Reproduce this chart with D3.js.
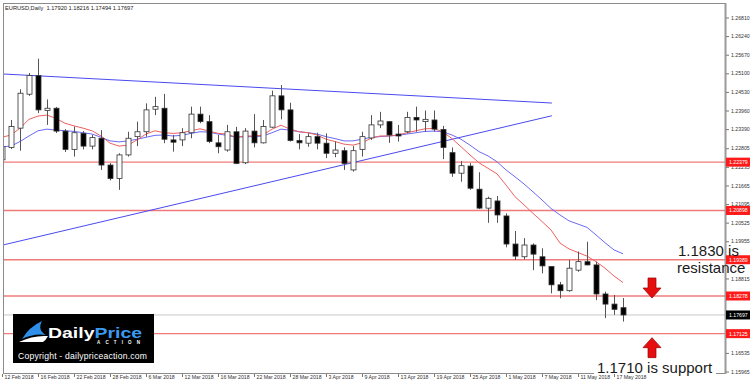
<!DOCTYPE html>
<html>
<head>
<meta charset="utf-8">
<script src="https://cdn.jsdelivr.net/npm/d3@7"></script>
<style>
  body { margin: 0; background: #fff; }
  svg { display: block; }
  text { font-family: "Liberation Sans", Arial, sans-serif; }
</style>
</head>
<body>
<div id="chart"></div>
<script>
// trading days shown on the chart
const dates = [
  "2018-02-12","2018-02-13","2018-02-14","2018-02-15","2018-02-16","2018-02-19","2018-02-20","2018-02-21","2018-02-22","2018-02-23",
  "2018-02-26","2018-02-27","2018-02-28","2018-03-01","2018-03-02","2018-03-05","2018-03-06","2018-03-07","2018-03-08","2018-03-09",
  "2018-03-12","2018-03-13","2018-03-14","2018-03-15","2018-03-16","2018-03-19","2018-03-20","2018-03-21","2018-03-22","2018-03-23",
  "2018-03-26","2018-03-27","2018-03-28","2018-03-29","2018-03-30","2018-04-02","2018-04-03","2018-04-04","2018-04-05","2018-04-06",
  "2018-04-09","2018-04-10","2018-04-11","2018-04-12","2018-04-13","2018-04-16","2018-04-17","2018-04-18","2018-04-19","2018-04-20",
  "2018-04-23","2018-04-24","2018-04-25","2018-04-26","2018-04-27","2018-04-30","2018-05-01","2018-05-02","2018-05-03","2018-05-04",
  "2018-05-07","2018-05-08","2018-05-09","2018-05-10","2018-05-11","2018-05-14","2018-05-15","2018-05-16","2018-05-17","2018-05-18"
];

const open = [
  1.2245,1.2283,1.2342,1.2446,1.2503,1.2396,1.2403,1.2333,1.2277,1.2326,
  1.2287,1.2311,1.2229,1.2188,1.2260,1.2316,1.2331,1.2400,1.2403,1.2306,
  1.2306,1.2328,1.2385,1.2362,1.2297,1.2275,1.2331,1.2236,1.2333,1.2297,
  1.2345,1.2441,1.2398,1.2304,1.2296,1.2316,1.2296,1.2265,1.2273,1.2214,
  1.2277,1.2312,1.2352,1.2362,1.2324,1.2331,1.2375,1.2362,1.2367,1.2338,
  1.2267,1.2204,1.2226,1.2155,1.2097,1.2119,1.2073,1.1987,1.1948,1.1984,
  1.1948,1.1918,1.1862,1.1844,1.1907,1.1933,1.1923,1.1834,1.1803,1.1792
];
const high = [
  1.2294,1.2367,1.2461,1.2511,1.2555,1.2430,1.2407,1.2339,1.2347,1.2333,
  1.2321,1.2336,1.2235,1.2265,1.2331,1.2362,1.2418,1.2438,1.2447,1.2321,
  1.2342,1.2408,1.2408,1.2382,1.2321,1.2352,1.2346,1.2342,1.2385,1.2367,
  1.2457,1.2474,1.2420,1.2324,1.2326,1.2328,1.2326,1.2301,1.2283,1.2287,
  1.2331,1.2382,1.2392,1.2364,1.2352,1.2392,1.2408,1.2396,1.2396,1.2349,
  1.2283,1.2241,1.2235,1.2207,1.2132,1.2134,1.2081,1.2027,1.2005,1.1989,
  1.1974,1.1918,1.1871,1.1938,1.1964,1.1994,1.1933,1.1841,1.1831,1.18216
];
const low = [
  1.2238,1.2278,1.2273,1.2441,1.2388,1.2352,1.2327,1.2269,1.2255,1.2277,
  1.2277,1.2214,1.2182,1.2153,1.2255,1.2287,1.2316,1.2382,1.2296,1.2270,
  1.2287,1.2311,1.2357,1.2296,1.2265,1.2270,1.2232,1.2232,1.2283,1.2295,
  1.2343,1.2369,1.2301,1.2277,1.2285,1.2277,1.2250,1.2253,1.2214,1.2209,
  1.2255,1.2306,1.2342,1.2297,1.2301,1.2326,1.2331,1.2331,1.2331,1.2247,
  1.2193,1.2178,1.2153,1.2094,1.2052,1.2052,1.1977,1.1938,1.1940,1.1907,
  1.1897,1.1836,1.1821,1.1841,1.1902,1.1922,1.1815,1.1760,1.1770,1.17494
];
const close = [
  1.2285,1.2347,1.2449,1.2503,1.2398,1.2403,1.2333,1.2277,1.2328,1.2287,
  1.2313,1.2229,1.2188,1.2260,1.2311,1.2331,1.2398,1.2408,1.2308,1.2299,
  1.2328,1.2385,1.2362,1.2301,1.2285,1.2331,1.2234,1.2333,1.2297,1.2347,
  1.2441,1.2398,1.2304,1.2297,1.2316,1.2296,1.2265,1.2275,1.2234,1.2273,
  1.2316,1.2352,1.2364,1.2321,1.2318,1.2375,1.2367,1.2369,1.2339,1.2283,
  1.2204,1.2227,1.2158,1.2097,1.2127,1.2076,1.1987,1.1950,1.1984,1.1956,
  1.1920,1.1862,1.1844,1.1913,1.1933,1.1923,1.1834,1.1803,1.1787,1.17697
];

// moving averages (red = fast, blue = slow)
const maFast = [
  1.2314,1.2321,1.2342,1.2369,1.2379,1.2382,1.2372,1.2357,1.2349,1.2342,
  1.2334,1.2318,1.2296,1.2287,1.2290,1.2306,1.2324,1.2334,1.2328,1.2326,
  1.2328,1.2334,1.2340,1.2333,1.2326,1.2324,1.2314,1.2318,1.2318,1.2321,
  1.2339,1.2351,1.2339,1.2331,1.2328,1.2321,1.2308,1.2301,1.2293,1.2290,
  1.2297,1.2311,1.2318,1.2318,1.2321,1.2328,1.2334,1.2340,1.2341,1.2330,
  1.2310,1.2285,1.2260,1.2236,1.2219,1.2202,1.2168,1.2132,1.2107,1.2081,
  1.2056,1.2030,1.1990,1.1972,1.1961,1.1950,1.1933,1.1913,1.1889,1.1869
];
const maSlow = [
  1.2285,1.2287,1.2301,1.2318,1.2334,1.2339,1.2336,1.2334,1.2332,1.2328,
  1.2324,1.2314,1.2303,1.2300,1.2303,1.2308,1.2314,1.2320,1.2321,1.2318,
  1.2320,1.2326,1.2331,1.2330,1.2324,1.2320,1.2314,1.2316,1.2316,1.2318,
  1.2328,1.2339,1.2336,1.2331,1.2328,1.2324,1.2316,1.2310,1.2303,1.2303,
  1.2308,1.2314,1.2316,1.2318,1.2320,1.2324,1.2328,1.2332,1.2333,1.2331,
  1.2321,1.2308,1.2290,1.2270,1.2257,1.2239,1.2214,1.2193,1.2171,1.2147,
  1.2122,1.2096,1.2076,1.2058,1.2048,1.2038,1.2015,1.1991,1.1969,1.1957
];

// trendlines: [bar index, price] -> [bar index, price]
const trendlines = [
  [0.1, 1.2508, 61.1, 1.2419],
  [0.1, 1.1984, 61.1, 1.2380]
];
const levels = [1.22379, 1.20898, 1.19389, 1.18278, 1.17125];
const lastPrice = 1.17697;
// price scale labels that are not hidden behind the level tags
const priceTicks = [1.26810,1.26240,1.25670,1.25100,1.24530,1.23960,1.23390,1.22805,1.22235,1.21665,
  1.21095,1.20525,1.19955,1.18815,1.16535,1.15965];
const header = "EURUSD,Daily  1.17920 1.18216 1.17494 1.17697";

const W = 750, H = 386;
const plot = { left: 3, top: 3, right: 725, bottom: 373 };

const svg = d3.select("#chart").append("svg")
  .attr("width", W).attr("height", H);

svg.append("rect").attr("width", W).attr("height", H).attr("fill", "#fff");

const x = d3.scaleLinear().domain([0, dates.length - 1]).range([2, 623]);
const y = d3.scaleLinear().domain([1.15965, 1.26810]).range([371.5, 17.5]);

svg.append("clipPath").attr("id", "clip")
  .append("rect")
  .attr("x", plot.left).attr("y", plot.top)
  .attr("width", plot.right - plot.left).attr("height", plot.bottom - plot.top);

const g = svg.append("g").attr("clip-path", "url(#clip)");

// horizontal levels
g.selectAll(".level")
  .data(levels)
  .enter().append("line")
  .attr("class", "level")
  .attr("x1", plot.left).attr("x2", plot.right)
  .attr("y1", d => y(d)).attr("y2", d => y(d))
  .attr("stroke", "#f07a7a").attr("stroke-width", 1.4);

g.append("line")
  .attr("x1", plot.left).attr("x2", plot.right)
  .attr("y1", y(lastPrice)).attr("y2", y(lastPrice))
  .attr("stroke", "#c8c8c8").attr("stroke-width", 1);

// trendlines
g.selectAll(".trend")
  .data(trendlines)
  .enter().append("line")
  .attr("class", "trend")
  .attr("x1", d => x(d[0])).attr("y1", d => y(d[1]))
  .attr("x2", d => x(d[2])).attr("y2", d => y(d[3]))
  .attr("stroke", "#4a4af0").attr("stroke-width", 1);

// moving averages
const maLine = d3.line().x((d, i) => x(i)).y(d => y(d));
g.append("path").datum(maSlow).attr("d", maLine)
  .attr("fill", "none").attr("stroke", "#6a6af5").attr("stroke-width", 1);
g.append("path").datum(maFast).attr("d", maLine)
  .attr("fill", "none").attr("stroke", "#f06060").attr("stroke-width", 1);

// candles
const bars = d3.range(dates.length).map(i => ({ i, o: open[i], h: high[i], l: low[i], c: close[i] }));
const candle = g.selectAll(".candle").data(bars).enter().append("g").attr("class", "candle");

candle.append("line")
  .attr("x1", d => Math.round(x(d.i)) + 0.5).attr("x2", d => Math.round(x(d.i)) + 0.5)
  .attr("y1", d => y(d.h)).attr("y2", d => y(d.l))
  .attr("stroke", "#555").attr("stroke-width", 1);

candle.append("rect")
  .attr("x", d => Math.round(x(d.i)) - 2)
  .attr("width", 5)
  .attr("y", d => y(Math.max(d.o, d.c)))
  .attr("height", d => Math.max(1, Math.abs(y(d.o) - y(d.c))))
  .attr("fill", d => d.c >= d.o ? "#fff" : "#000")
  .attr("stroke", "#333").attr("stroke-width", 0.8);

// frame
svg.append("rect")
  .attr("x", plot.left + 0.5).attr("y", plot.top + 0.5)
  .attr("width", plot.right - plot.left).attr("height", plot.bottom - plot.top)
  .attr("fill", "none").attr("stroke", "#8c8c8c").attr("stroke-width", 1);
svg.append("line")
  .attr("x1", plot.right + 0.5).attr("x2", plot.right + 0.5)
  .attr("y1", plot.top).attr("y2", plot.bottom + 1)
  .attr("stroke", "#9a9a9a").attr("stroke-width", 2);

// price axis
const yAxis = svg.append("g")
  .attr("transform", `translate(${plot.right + 1},0)`)
  .call(d3.axisRight(y).tickValues(priceTicks).tickSize(3).tickPadding(2).tickFormat(d3.format(".5f")));
yAxis.select(".domain").remove();
yAxis.selectAll("line").attr("stroke", "#777");
yAxis.selectAll("text").attr("font-size", 5.2).attr("fill", "#333")
  .attr("font-family", "Liberation Sans, Arial, sans-serif");

// level labels on axis
const tags = levels.map(v => ({ v, fill: "#ff1a1a" })).concat([{ v: lastPrice, fill: "#000" }]);
const tag = svg.selectAll(".tag").data(tags).enter().append("g").attr("class", "tag");
tag.append("rect")
  .attr("x", plot.right + 1).attr("y", d => y(d.v) - 4.5)
  .attr("width", 24).attr("height", 9).attr("fill", d => d.fill);
tag.append("text")
  .attr("x", plot.right + 4).attr("y", d => y(d.v) + 2)
  .attr("font-size", 5.2).attr("fill", "#fff")
  .text(d => d3.format(".5f")(d.v));

// time axis
const fmt = d3.timeFormat("%-d %b %Y");
const parse = d3.timeParse("%Y-%m-%d");
const xAxis = svg.append("g")
  .attr("transform", `translate(0,${plot.bottom + 1})`)
  .call(d3.axisBottom(x).tickValues(d3.range(0, dates.length, 4)).tickSize(3).tickFormat(i => fmt(parse(dates[i]))));
xAxis.select(".domain").remove();
xAxis.selectAll("line").attr("stroke", "#777");
xAxis.selectAll("text")
  .attr("text-anchor", "start").attr("x", 2).attr("y", 1).attr("dy", "0.71em")
  .attr("font-size", 5.2).attr("fill", "#333")
  .attr("font-family", "Liberation Sans, Arial, sans-serif");

// header
svg.append("text").attr("x", 5).attr("y", 10)
  .attr("font-size", 5.7).attr("fill", "#222")
  .attr("xml:space", "preserve")
  .text(header);

// annotations
svg.append("rect").attr("x", 594).attr("y", 360).attr("width", 122).attr("height", 14).attr("fill", "#fff");
const note = svg.append("g").attr("font-size", 15).attr("fill", "#1a1a1a");
note.append("text").attr("x", 678).attr("y", 256).text("1.1830 is");
note.append("text").attr("x", 677).attr("y", 273).text("resistance");
note.append("text").attr("x", 597).attr("y", 373).text("1.1710 is support");

// arrows pointing at the levels
function arrow(cx, tipY, dir) {
  const s = dir; // 1 = down, -1 = up
  const p = [
    [cx - 4, tipY - s * 20], [cx + 4, tipY - s * 20], [cx + 4, tipY - s * 10],
    [cx + 9, tipY - s * 10], [cx, tipY], [cx - 9, tipY - s * 10], [cx - 4, tipY - s * 10]
  ];
  svg.append("path").attr("d", "M" + p.join("L") + "Z")
    .attr("fill", "#e60f0f").attr("stroke", "#9a0000").attr("stroke-width", 0.7);
}
arrow(652, y(1.18278) + 2, 1);
arrow(652, y(1.17125) + 4, -1);

// logo
const logo = svg.append("g");
logo.append("rect").attr("x", 13).attr("y", 314).attr("width", 141).attr("height", 49).attr("fill", "#000");
logo.append("path").attr("d", "M22,339 Q29,327 42,321 Q37,330 46,335 Q34,333 22,339 Z").attr("fill", "#2f8fe8");
logo.append("path").attr("d", "M19,342 Q33,335 48,336 Q46,340 43,342 Z").attr("fill", "#fff");
const brand = logo.append("text").attr("x", 48).attr("y", 337.5)
  .attr("font-size", 14).attr("font-weight", "bold")
  .attr("textLength", 94).attr("lengthAdjust", "spacingAndGlyphs");
brand.append("tspan").attr("fill", "#fff").text("Daily");
brand.append("tspan").attr("fill", "#3a9af0").text("Price");
logo.append("text").attr("x", 97).attr("y", 344).attr("font-size", 4.5).attr("fill", "#fff")
  .attr("textLength", 43).attr("font-weight", "bold").text("ACTION");
logo.append("text").attr("x", 18).attr("y", 359).attr("font-size", 8.6).attr("fill", "#fff")
  .attr("textLength", 129).text("Copyright - dailypriceaction.com");
</script>
</body>
</html>
